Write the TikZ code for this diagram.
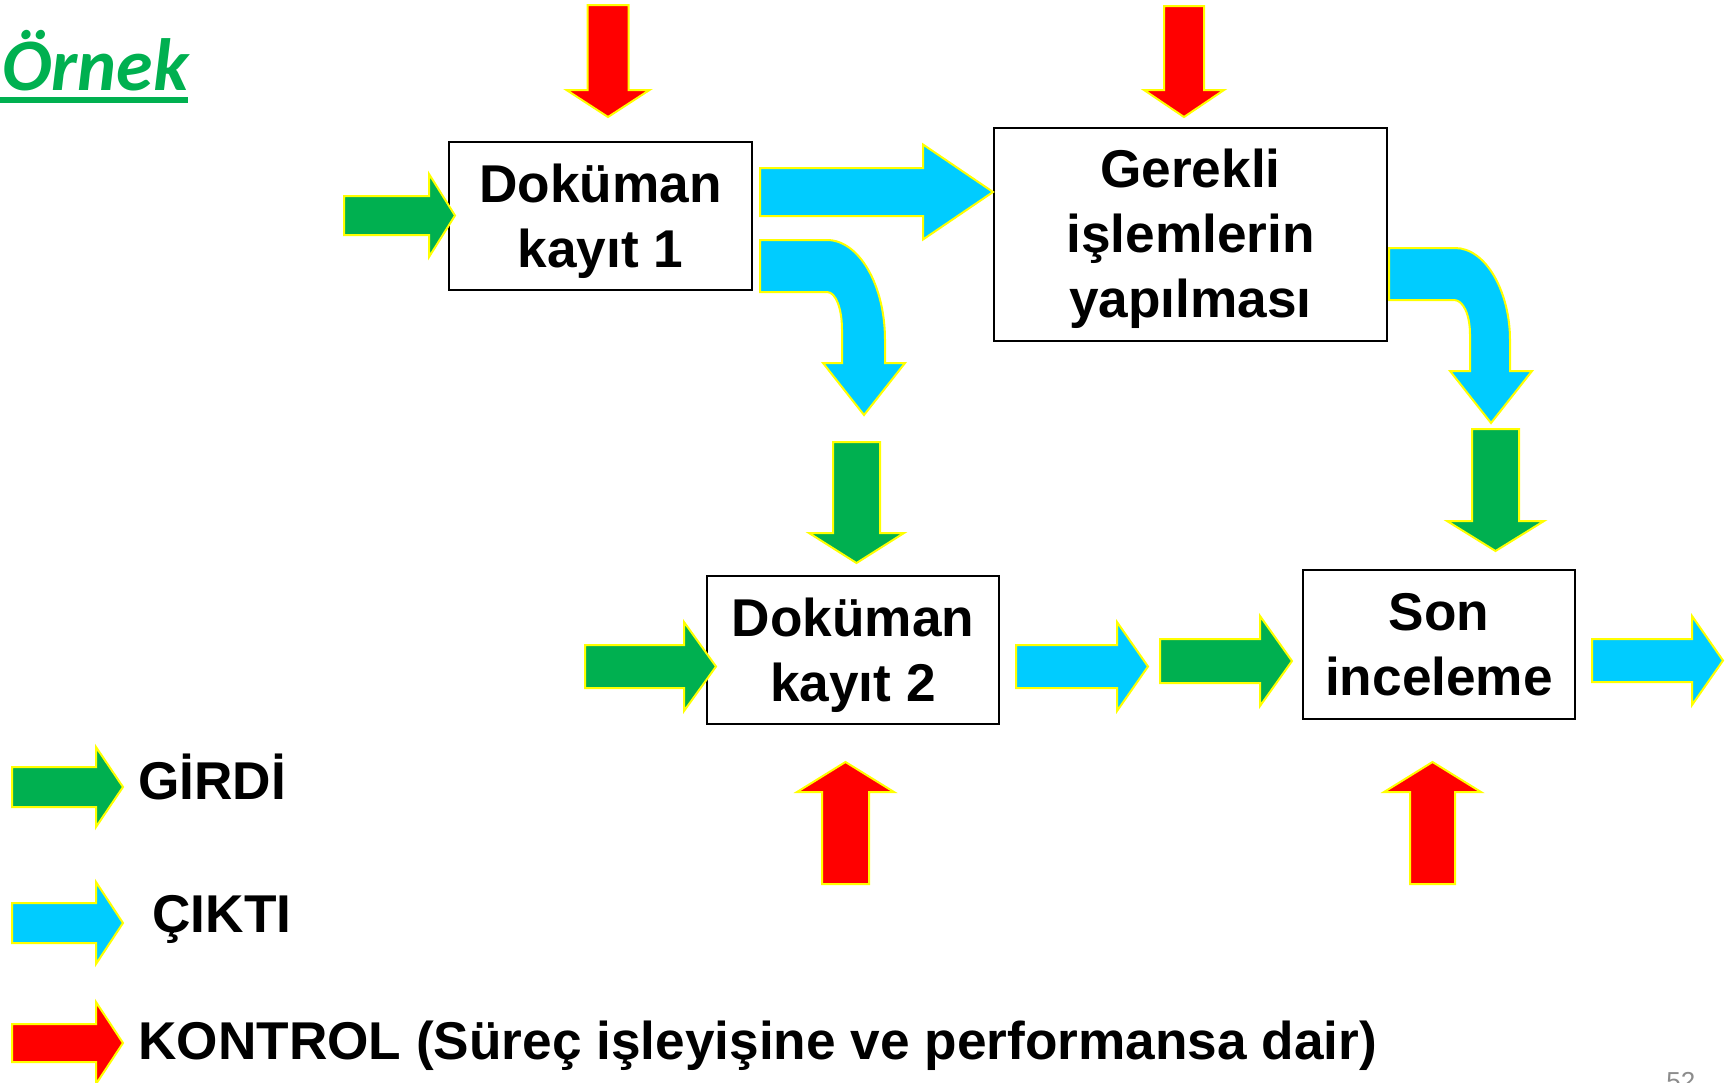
\documentclass[tikz,border=0pt]{standalone}
\usepackage{fontspec}
\setmainfont{Liberation Sans}
\newfontfamily\titlefont{Carlito}
\definecolor{ingreen}{HTML}{00B050}
\definecolor{outcyan}{HTML}{00CCFF}
\definecolor{ctrlred}{HTML}{FF0000}
\definecolor{arrowedge}{HTML}{FFFF00}
\definecolor{pagegray}{HTML}{8C8C8C}
\newcommand\procfont{\fontsize{26.6pt}{32.5pt}\selectfont\bfseries}
% horizontal block arrow: colour, tail x, head-base x, tip x, centre y, half shaft, half head
\newcommand\harrow[7]{%
  \path[blockarrow,fill=#1] (#2,#5-#6) -- (#3,#5-#6) -- (#3,#5-#7) -- (#4,#5)
    -- (#3,#5+#7) -- (#3,#5+#6) -- (#2,#5+#6) -- cycle;}
% vertical block arrow: colour, centre x, tail y, head-base y, tip y, half shaft, half head
\newcommand\varrow[7]{%
  \path[blockarrow,fill=#1] (#2-#6,#3) -- (#2-#6,#4) -- (#2-#7,#4) -- (#2,#5)
    -- (#2+#7,#4) -- (#2+#6,#4) -- (#2+#6,#3) -- cycle;}
\begin{document}
\begin{tikzpicture}[x=0.5pt,y=-0.5pt,
  blockarrow/.style={draw=arrowedge, line width=1pt, line join=miter},
  procbox/.style={draw=black, line width=1.2pt, fill=white, inner sep=0pt},
  proctext/.style={align=center, inner sep=0pt, font=\procfont},
  legendtext/.style={anchor=base west, inner sep=0pt, font=\procfont}]
\useasboundingbox (0,0) rectangle (1728,1082);

% title
\node[anchor=base west, inner sep=0pt, text=ingreen,
  font=\titlefont\fontsize{37pt}{40pt}\selectfont\bfseries\itshape] (title) at (2,90) {Örnek};
\fill[ingreen] (0,97) rectangle (188,103);

% process boxes
\node[procbox, minimum width=151.5pt, minimum height=74pt] (kayit1) at (600.5,216) {};
\node[procbox, minimum width=196.5pt, minimum height=106.5pt] (islem) at (1190.5,234.5) {};
\node[procbox, minimum width=146pt, minimum height=74pt] (kayit2) at (853,650) {};
\node[procbox, minimum width=136pt, minimum height=74.5pt] (son) at (1439,644.5) {};
% their labels, set a little below the geometric centre
\node[proctext] (kayit1text) at ([yshift=-2.75pt]kayit1.center) {Doküman\\kayıt 1};
\node[proctext] (islemtext) at ([yshift=-2.25pt]islem.center) {Gerekli\\işlemlerin\\yapılması};
\node[proctext] (kayit2text) at ([yshift=-2.75pt]kayit2.center) {Doküman\\kayıt 2};
\node[proctext] (sontext) at (son.center) {Son\\inceleme};

% controls from above
\varrow{ctrlred}{608}{5}{90}{117}{20.5}{41.5}
\varrow{ctrlred}{1184}{6}{90}{117}{20}{40}
% controls from below
\varrow{ctrlred}{845.5}{884}{792}{762}{23.5}{48.5}
\varrow{ctrlred}{1432.5}{884}{792}{762}{22.5}{48.5}

% inputs
\harrow{ingreen}{344}{429}{455}{215.5}{19.5}{41.5}
\harrow{ingreen}{585}{684}{716}{666.5}{21.5}{44.5}
\harrow{ingreen}{1160}{1260}{1292}{661}{22}{45}
\varrow{ingreen}{856.5}{442}{533}{563}{23.5}{47.5}
\varrow{ingreen}{1495.5}{429}{521}{551}{23.5}{48.5}

% outputs
\harrow{outcyan}{760}{923}{993}{192}{24}{47.5}
\harrow{outcyan}{1016}{1117}{1148}{666.5}{21.5}{44.5}
\harrow{outcyan}{1592}{1692}{1723}{660.5}{21.5}{44.5}
% bent outputs
\path[blockarrow, fill=outcyan] (760,240) -- (827,240)
  .. controls (859,240) and (885,285) .. (885,340) -- (885,363) -- (905,363)
  -- (864,415) -- (823,363) -- (842,363) -- (842,330)
  .. controls (842,309) and (836,292) .. (827,292) -- (760,292) -- cycle;
\path[blockarrow, fill=outcyan] (1389,248) -- (1455,248)
  .. controls (1486,248) and (1510,292) .. (1510,340) -- (1510,371) -- (1532,371)
  -- (1491,423) -- (1450,371) -- (1470,371) -- (1470,335)
  .. controls (1470,314) and (1463,300) .. (1454,300) -- (1389,300) -- cycle;

% legend
\harrow{ingreen}{12}{96}{123}{787}{20}{40}
\harrow{outcyan}{12}{96}{123}{923}{20}{41}
\harrow{ctrlred}{12}{96}{123}{1043}{19}{41}
\node[legendtext] (girdi) at (138,799) {GİRDİ};
\node[legendtext] (cikti) at (152,932) {ÇIKTI};
\node[legendtext] (kontrol) at (138,1059) {KONTROL (Süreç işleyişine ve performansa dair)};

% slide number
\node[anchor=base west, inner sep=0pt, text=pagegray,
  font=\fontsize{13pt}{15pt}\selectfont] (pageno) at (1666,1090) {52};
\end{tikzpicture}
\end{document}
